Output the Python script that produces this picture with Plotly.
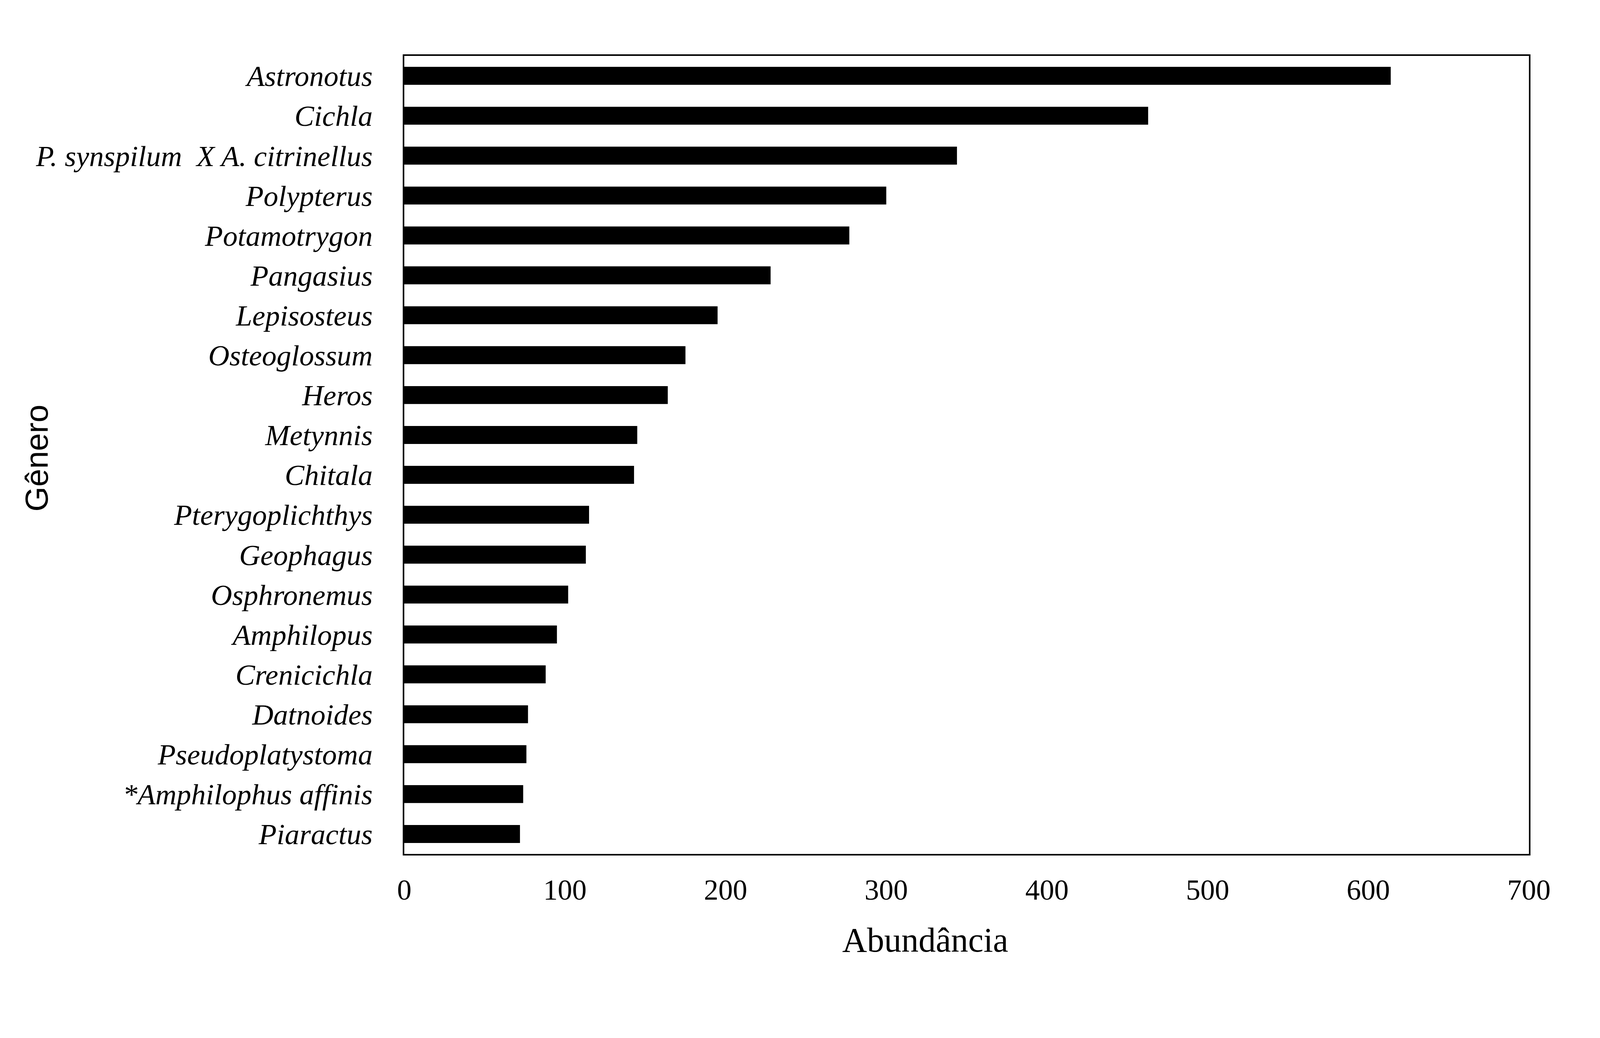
import plotly.graph_objects as go

# --- Data (top to bottom as in the chart) ---
genera = [
    'Astronotus', 'Cichla', 'P. synspilum  X A. citrinellus', 'Polypterus',
    'Potamotrygon', 'Pangasius', 'Lepisosteus', 'Osteoglossum', 'Heros',
    'Metynnis', 'Chitala', 'Pterygoplichthys', 'Geophagus', 'Osphronemus',
    'Amphilopus', 'Crenicichla', 'Datnoides', 'Pseudoplatystoma',
    '*Amphilophus affinis', 'Piaractus',
]
abundance = [614, 463, 344, 300, 277, 228, 195, 175, 164, 145,
             143, 115, 113, 102, 95, 88, 77, 76, 74, 72]
x_ticks = [0, 100, 200, 300, 400, 500, 600, 700]

serif = 'Liberation Serif, Times New Roman, serif'
sans = 'Liberation Sans, Arial, sans-serif'

# the browser viewport is 4096 wide; page body keeps its default 8px margin
W, H = 4088, 2648
L, R, T, B = 1027, 182, 135, 471
pw, ph = W - L - R, H - T - B

fig = go.Figure(go.Bar(
    x=abundance,
    y=genera,
    orientation='h',
    width=0.45,
    marker=dict(color='black', line=dict(width=0)),
))

fig.update_layout(
    width=W,
    height=H,
    margin=dict(l=L, r=R, t=T, b=B),
    paper_bgcolor='white',
    plot_bgcolor='white',
    showlegend=False,
)

fig.update_xaxes(
    range=[0, 700],
    tickvals=x_ticks,
    showgrid=False,
    zeroline=False,
    ticks='',
    ticklabelstandoff=24,
    tickfont=dict(family=serif, size=74, color='black'),
    showline=True, linecolor='black', linewidth=4, mirror=True,
)
fig.update_yaxes(
    autorange='reversed',
    showgrid=False,
    ticks='',
    ticklabelstandoff=62,
    tickfont=dict(family=serif, size=75, color='black', style='italic'),
    showline=True, linecolor='black', linewidth=4, mirror=True,
)

# axis titles
fig.add_annotation(
    text='Abundância', xref='paper', yref='paper',
    x=(2360 - L) / pw, y=-(2397 - (T + ph)) / ph,
    showarrow=False, xanchor='center', yanchor='middle',
    font=dict(family=serif, size=88, color='black'),
)
fig.add_annotation(
    text='Gênero', xref='paper', yref='paper',
    x=(85 - L) / pw, y=((T + ph) - 1164) / ph,
    showarrow=False, textangle=-90, xanchor='center', yanchor='middle',
    font=dict(family=sans, size=82, color='black'),
)

fig.write_html("out.html")
